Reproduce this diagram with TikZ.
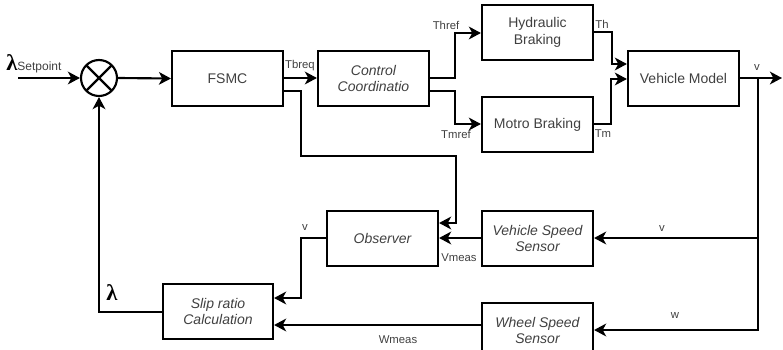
\documentclass[tikz,border=0pt]{standalone}
\usepackage{fontspec}
\setmainfont{Liberation Sans}
\newfontfamily\serifgreek{Liberation Serif}
\usetikzlibrary{arrows.meta,calc}
\definecolor{txt}{HTML}{404040}
\begin{document}
\begin{tikzpicture}[x=0.75pt,y=-0.75pt,
  blk/.style={draw=black,line width=1.6pt,minimum width=83.25pt,minimum height=41.25pt,inner sep=0pt,align=center,text=txt,font=\fontsize{10.5}{12.5}\selectfont},
  iblk/.style={blk,font=\fontsize{10.5}{12.5}\selectfont\itshape},
  wire/.style={line width=1.6pt,-{Stealth[length=9pt,width=9.5pt,inset=2.5pt]}},
  lbl/.style={text=txt,font=\fontsize{8.5}{10}\selectfont,inner sep=0pt}]
\useasboundingbox (0,0) rectangle (783,350);
\clip (0,0) rectangle (783,350);
% blocks
\node[circle,draw,line width=1.6pt,minimum size=27pt,inner sep=0pt] (sum) at (99,78) {};
\draw[line width=1.6pt] ($(sum.center)+(-12.7,-12.7)$) -- ($(sum.center)+(12.7,12.7)$);
\draw[line width=1.6pt] ($(sum.center)+(-12.7,12.7)$) -- ($(sum.center)+(12.7,-12.7)$);
\node[blk] (fsmc) at (227.5,78.5) {FSMC};
\node[iblk] (ctrl) at (373.5,78.5) {Control\\Coordinatio};
\node[blk] (hyd) at (537.5,32.5) {Hydraulic\\Braking};
\node[blk] (mot) at (537.5,124.5) {Motro Braking};
\node[blk] (vm) at (683.5,78.5) {Vehicle Model};
\node[iblk] (obs) at (382.5,238.5) {Observer};
\node[iblk] (vss) at (537.5,238.5) {Vehicle Speed\\Sensor};
\node[iblk,minimum width=82.5pt] (slip) at (218,311.5) {Slip ratio\\Calculation};
\node[iblk] (wss) at (537.5,330.5) {Wheel Speed\\Sensor};
% coordinates
\coordinate (in) at (18,78);
\coordinate (out) at (782,78);
\coordinate (br) at (758,78);
% connectors
\draw[wire] (in) -- (sum.west);
\draw[wire] (sum.east) -- (fsmc.west);
\draw[wire] (fsmc.east |- 0,78) -- (ctrl.west |- 0,78);
\draw[wire] (fsmc.east |- 0,91) -- (301,91) -- (301,156) -- (456,156) -- (456,223) -- (obs.east |- 0,223);
\draw[wire] (ctrl.east |- 0,78) -- (455,78) -- (455,33) -- (hyd.west |- 0,33);
\draw[wire] (ctrl.east |- 0,91) -- (455,91) -- (455,124) -- (mot.west |- 0,124);
\draw[wire] (hyd.east |- 0,32) -- (612,32) -- (612,64) -- (vm.west |- 0,64);
\draw[wire] (mot.east |- 0,124) -- (611,124) -- (611,79) -- (vm.west |- 0,79);
\draw[wire] (vm.east |- 0,78) -- (out);
\draw[wire] (br) -- (758,330) -- (wss.east |- 0,330);
\draw[wire] (758,238) -- (vss.east |- 0,238);
\draw[wire] (vss.west |- 0,238) -- (obs.east |- 0,238);
\draw[wire] (obs.west |- 0,238) -- (301,238) -- (301,298) -- (slip.east |- 0,298);
\draw[wire] (wss.west |- 0,325) -- (slip.east |- 0,325);
\draw[wire] (slip.west |- 0,312) -- (99,312) -- (sum.south);
% labels
\node[inner sep=0pt,anchor=base west] (lsp) at (6,70) {\fontsize{17}{17}\selectfont\serifgreek\bfseries λ\mdseries\fontsize{9}{10}\selectfont\color{txt}\rmfamily Setpoint};
\node[inner sep=0pt,anchor=base west] (lam) at (106,300) {\fontsize{17}{17}\selectfont\serifgreek\bfseries λ};
\node[lbl] (tbreq) at (300,66) {Tbreq};
\node[lbl] (thref) at (446,25) {Thref};
\node[lbl] (tmref) at (456,134) {Tmref};
\node[lbl] (th) at (602,24) {Th};
\node[lbl] (tm) at (603,134) {Tm};
\node[lbl] (v1) at (757,68) {v};
\node[lbl] (v2) at (662,229) {v};
\node[lbl] (w1) at (675,316) {w};
\node[lbl] (vmeas) at (459,258) {Vmeas};
\node[lbl] (v3) at (305,228) {v};
\node[lbl] (wmeas) at (398,340) {Wmeas};
\end{tikzpicture}
\end{document}
